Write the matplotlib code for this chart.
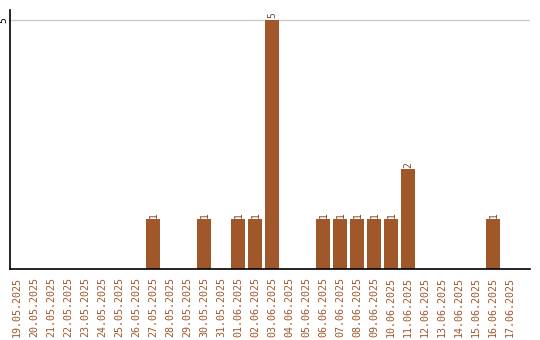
import datetime as dt
import matplotlib
matplotlib.use("Agg")
import matplotlib.pyplot as plt

start = dt.date(2025, 5, 19)
dates = [(start + dt.timedelta(days=i)).strftime("%d.%m.%Y") for i in range(30)]
counts = {
    "27.05.2025": 1, "30.05.2025": 1, "01.06.2025": 1, "02.06.2025": 1,
    "03.06.2025": 5, "06.06.2025": 1, "07.06.2025": 1, "08.06.2025": 1,
    "09.06.2025": 1, "10.06.2025": 1, "11.06.2025": 2, "16.06.2025": 1,
}
values = [counts.get(d, 0) for d in dates]

bar_color = "#a0572a"
text_color = "#a0572a"
font = "DejaVu Sans Mono"

fig = plt.figure(figsize=(5.4, 3.4), dpi=100)
ax = fig.add_axes([10 / 540, 71 / 340, 520 / 540, 259 / 340])

x = list(range(len(dates)))
ax.bar(x, values, width=0.82, color=bar_color, zorder=2)
for xi, v in zip(x, values):
    if v > 0:
        ax.text(xi + 0.05, v + 0.03, str(v), rotation=90, ha="center", va="bottom",
                fontsize=7, family=font, color="#7a4a2a")

ax.set_xlim(-0.41, 30.18)
ax.set_ylim(0, 5.2)
ax.set_yticks([5])
ax.set_yticklabels(["5"], rotation=90, va="center", family=font, fontsize=7)
ax.yaxis.grid(True, color="#cccccc", lw=1, zorder=0)
ax.tick_params(axis="y", length=0, pad=1)

ax.set_xticks(x)
ax.set_xticklabels(dates, rotation=90, family=font, fontsize=7.2, color=text_color)
ax.tick_params(axis="x", length=0, pad=6)

for s in ["top", "right"]:
    ax.spines[s].set_visible(False)
ax.spines["left"].set_linewidth(1.2)
ax.spines["bottom"].set_linewidth(1.2)

fig.savefig("out.png", dpi=100)
